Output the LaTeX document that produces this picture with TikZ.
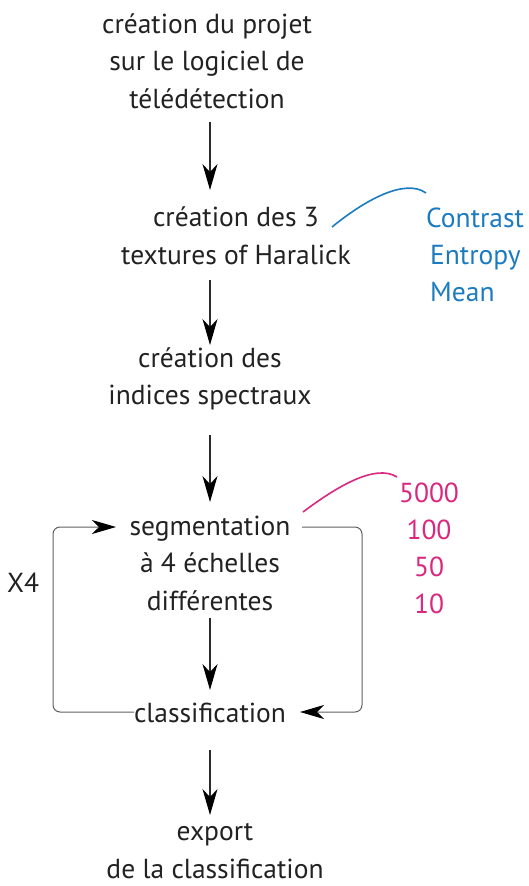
\documentclass[tikz,border=0pt]{standalone}
\usepackage{fontspec}
\setmainfont{PT Sans}
\usetikzlibrary{arrows.meta}
\definecolor{txt}{HTML}{222222}
\definecolor{ln}{HTML}{2A2A2A}
\definecolor{bl}{HTML}{1A7BC0}
\definecolor{mg}{HTML}{D9287F}
\tikzset{
  stepbox/.style={align=center, inner sep=0pt, text=txt, font=\fontsize{27.5}{37.5}\selectfont},
  side/.style={align=center, inner sep=0pt, font=\fontsize{27.5}{37}\selectfont},
  arr/.style={draw=ln, line width=1.2pt, -{Stealth[length=26pt,width=15pt,inset=8pt,color=black]}},
  loopln/.style={draw=ln!75, line width=1pt, rounded corners=7pt, -{Stealth[length=24pt,width=14pt,inset=7pt,color=black]}},
}
\begin{document}
\begin{tikzpicture}[x=1pt,y=1pt]
\useasboundingbox (0,0) rectangle (528,-886);
\node[stepbox] (n1) at (207,-61) {création du projet\\sur le logiciel de\\télédétection};
\node[stepbox] (n2) at (236,-236) {création des 3\\textures of Haralick};
\node[stepbox] (n3) at (210,-379) {création des\\indices spectraux};
\node[stepbox] (n4) at (210,-563) {segmentation\\à 4 échelles\\différentes};
\node[stepbox] (n5) at (210,-713) {classification};
\node[stepbox] (n6) at (215,-851) {export\\de la classification};
\node[stepbox, anchor=center] (x4) at (23,-583) {X4};
\node[side, text=bl, align=left, anchor=west] (haral) at (426,-255) {Contrast\\\hspace*{4pt}Entropy\\\hspace*{4pt}Mean};
\node[side, text=mg, align=center] (scales) at (429,-548) {5000\\100\\50\\10};
% vertical arrows
\coordinate (a1s) at (210,-122); \coordinate (a1e) at (210,-190);
\draw[arr] (a1s) -- (a1e);
\coordinate (a2s) at (210,-280); \coordinate (a2e) at (210,-345);
\draw[arr] (a2s) -- (a2e);
\coordinate (a3s) at (210,-435); \coordinate (a3e) at (210,-502);
\draw[arr] (a3s) -- (a3e);
\coordinate (a4s) at (210,-618); \coordinate (a4e) at (210,-690);
\draw[arr] (a4s) -- (a4e);
\coordinate (a5s) at (210,-750); \coordinate (a5e) at (210,-815);
\draw[arr] (a5s) -- (a5e);
% loops
\coordinate (clsL) at (134,-712); \coordinate (segL) at (116,-527);
\coordinate (segR) at (302,-527); \coordinate (clsR) at (300,-712);
\draw[loopln] (clsL) -- (53,-712) -- (53,-527) -- (segL);
\draw[loopln] (segR) -- (362,-527) -- (362,-712) -- (clsR);
% annotation curves
\coordinate (bs) at (332,-227); \coordinate (be) at (426,-193);
\draw[bl, line width=1.6pt] (bs) .. controls (365,-200) and (405,-178) .. (be);
\coordinate (ms) at (303,-512); \coordinate (me) at (397,-477);
\draw[mg, line width=1.6pt] (ms) .. controls (335,-488) and (375,-463) .. (me);
\end{tikzpicture}
\end{document}
